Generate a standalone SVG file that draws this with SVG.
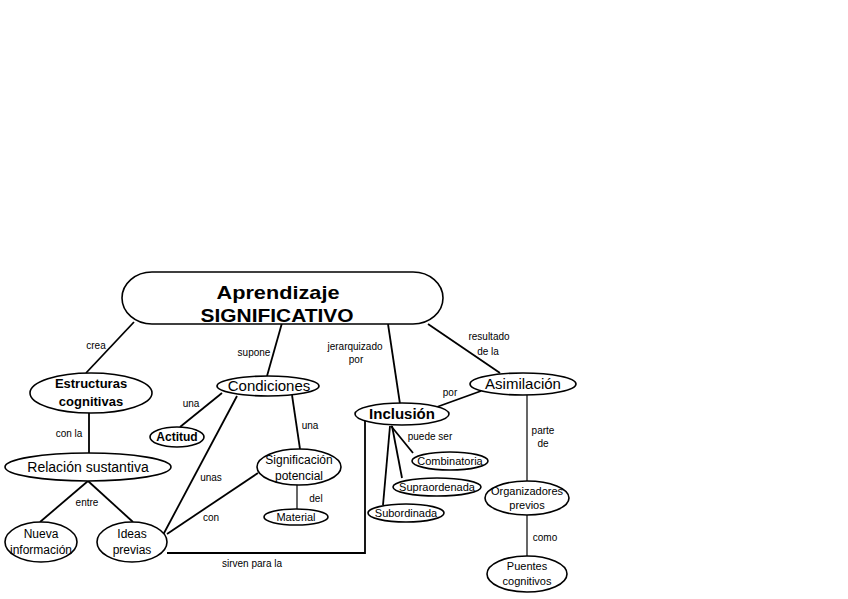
<svg xmlns="http://www.w3.org/2000/svg" width="848" height="599" viewBox="0 0 848 599">
<style>
.n{fill:#fff;stroke:#000;stroke-width:1.6}
.c line,.c polyline{stroke:#000;stroke-width:1.8;fill:none}
.c .thin{stroke-width:1.2}
text{font-family:"Liberation Sans",Arial,sans-serif;fill:#000;text-anchor:middle}
.l{font-size:10px}
.t{font-size:12px}
.b{font-weight:bold}
</style>
<rect width="848" height="599" fill="#fff"/>
<g class="c" id="connectors">
<line x1="134" y1="322" x2="86" y2="373"/>
<line x1="282" y1="323" x2="267" y2="376"/>
<line x1="388" y1="324" x2="400" y2="404"/>
<line x1="428" y1="324" x2="500" y2="373"/>
<line x1="481" y1="391" x2="434" y2="408"/>
<line x1="89" y1="413" x2="89" y2="453"/>
<line x1="88" y1="481" x2="40" y2="522"/>
<line x1="88" y1="481" x2="133" y2="522"/>
<line x1="222" y1="393" x2="180" y2="427"/>
<line x1="292" y1="395" x2="300" y2="449"/>
<line x1="237" y1="396" x2="163" y2="535"/>
<line x1="258" y1="473" x2="167" y2="534"/>
<line x1="297" y1="485" x2="297" y2="509" class="thin"/>
<polyline points="167,553 365,553 365,420"/>
<line x1="391" y1="426" x2="413" y2="453"/>
<line x1="392" y1="426" x2="402" y2="478"/>
<line x1="390" y1="426" x2="383" y2="505"/>
<line x1="527" y1="395" x2="527" y2="481" class="thin"/>
<line x1="527" y1="515" x2="527" y2="556" class="thin"/>
</g>
<g id="labels" class="l">
<text x="96" y="349">crea</text>
<text x="254" y="356">supone</text>
<text x="355" y="350">jerarquizado</text>
<text x="356" y="363">por</text>
<text x="489" y="340">resultado</text>
<text x="488" y="355">de la</text>
<text x="450" y="396">por</text>
<text x="69" y="437">con la</text>
<text x="87" y="506">entre</text>
<text x="191" y="407">una</text>
<text x="310" y="429">una</text>
<text x="211" y="481">unas</text>
<text x="211" y="521">con</text>
<text x="316" y="502">del</text>
<text x="252" y="567">sirven para la</text>
<text x="430" y="440">puede ser</text>
<text x="543" y="434">parte</text>
<text x="543" y="447">de</text>
<text x="545" y="541">como</text>
</g>
<g id="aprendizaje">
<rect class="n" x="122" y="272" width="321" height="52" rx="30" ry="26"/>
<text x="278" y="299" class="b" font-size="19" textLength="123" lengthAdjust="spacingAndGlyphs">Aprendizaje</text>
<text x="277" y="322" class="b" font-size="19" textLength="153" lengthAdjust="spacingAndGlyphs">SIGNIFICATIVO</text>
</g>
<g id="estructuras">
<ellipse class="n" cx="91" cy="393" rx="61" ry="20"/>
<text x="91" y="388" class="b" font-size="13">Estructuras</text>
<text x="91" y="406" class="b" font-size="13">cognitivas</text>
</g>
<g id="relacion">
<ellipse class="n" cx="88" cy="467" rx="83" ry="14"/>
<text x="88" y="472" font-size="14">Relación sustantiva</text>
</g>
<g id="nueva">
<ellipse class="n" cx="41" cy="542" rx="36" ry="20"/>
<text x="41" y="538" class="t">Nueva</text>
<text x="41" y="554" class="t" textLength="62" lengthAdjust="spacingAndGlyphs">información</text>
</g>
<g id="ideas">
<ellipse class="n" cx="132" cy="542" rx="35" ry="20"/>
<text x="132" y="538" class="t">Ideas</text>
<text x="132" y="554" class="t">previas</text>
</g>
<g id="condiciones">
<ellipse class="n" cx="268" cy="386" rx="51" ry="10"/>
<text x="269" y="391" font-size="15">Condiciones</text>
</g>
<g id="actitud">
<ellipse class="n" cx="177" cy="437" rx="27" ry="10" stroke-width="2.2"/>
<text x="177" y="441" class="t b">Actitud</text>
</g>
<g id="significacion">
<ellipse class="n" cx="299" cy="467" rx="42" ry="18"/>
<text x="299" y="464" class="t">Significación</text>
<text x="299" y="480" class="t">potencial</text>
</g>
<g id="material">
<ellipse class="n" cx="296" cy="517" rx="32" ry="8"/>
<text x="296" y="521" font-size="11">Material</text>
</g>
<g id="asimilacion">
<ellipse class="n" cx="523" cy="384" rx="53" ry="11"/>
<text x="523" y="389" font-size="15">Asimilación</text>
</g>
<g id="inclusion">
<ellipse class="n" cx="402" cy="414" rx="47" ry="11" stroke-width="2"/>
<text x="402" y="419" font-size="15" class="b">Inclusión</text>
</g>
<g id="combinatoria">
<ellipse class="n" cx="450" cy="461" rx="38" ry="9"/>
<text x="450" y="465" font-size="11">Combinatoria</text>
</g>
<g id="supraordenada">
<ellipse class="n" cx="437" cy="487" rx="44" ry="9"/>
<text x="437" y="491" font-size="11">Supraordenada</text>
</g>
<g id="subordinada">
<ellipse class="n" cx="406" cy="513" rx="38" ry="9"/>
<text x="406" y="517" font-size="11">Subordinada</text>
</g>
<g id="organizadores">
<ellipse class="n" cx="527" cy="498" rx="42" ry="17"/>
<text x="527" y="495" font-size="11">Organizadores</text>
<text x="527" y="509" font-size="11">previos</text>
</g>
<g id="puentes">
<ellipse class="n" cx="527" cy="574" rx="40" ry="18"/>
<text x="527" y="570" font-size="11">Puentes</text>
<text x="527" y="585" font-size="11">cognitivos</text>
</g>
</svg>
